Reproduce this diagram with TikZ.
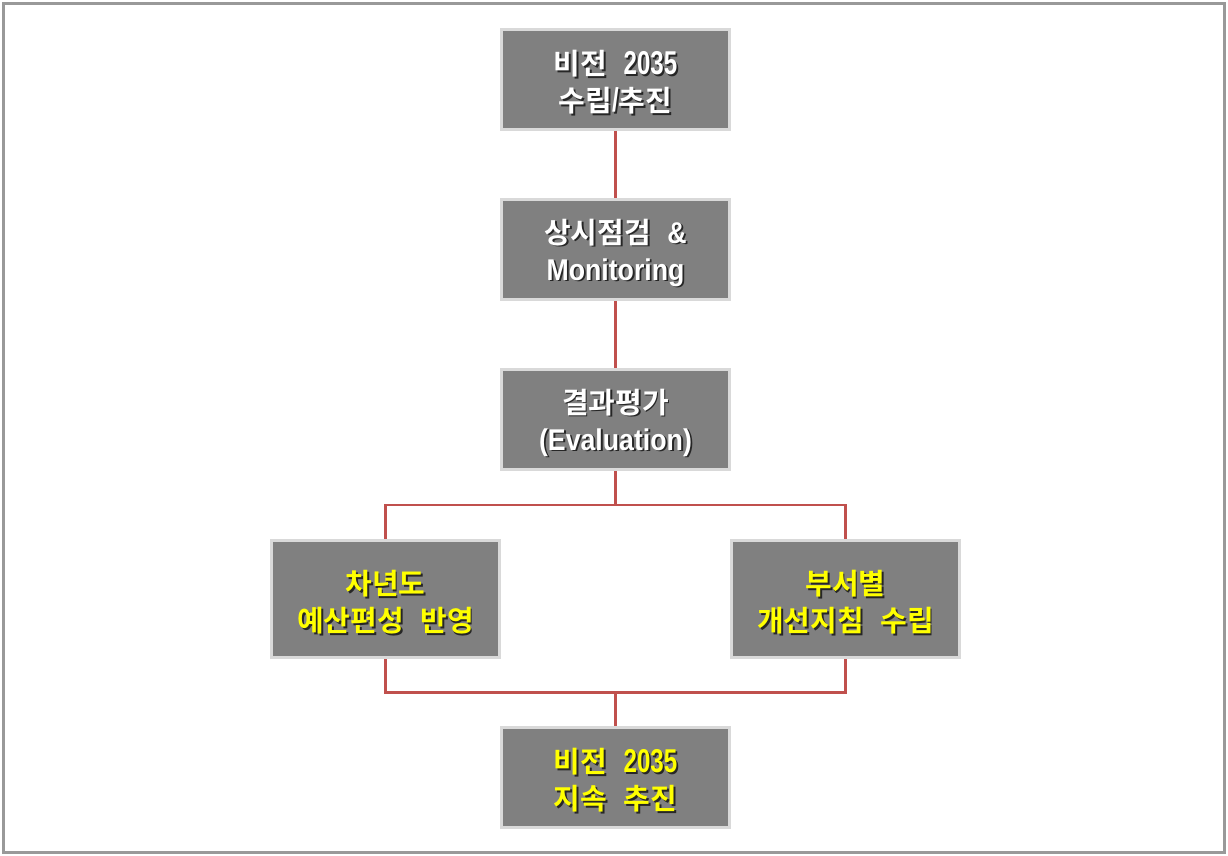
\documentclass[tikz,border=0pt]{standalone}
\usepackage{fontspec}
\newfontfamily\krfont{Noto Sans CJK KR}[BoldFont=* Bold,WordSpace=2.5]
\newfontfamily\latfont{Liberation Sans Bold}[FakeStretch=0.89]
\newfontfamily\digfont{Liberation Sans Bold}[FakeStretch=0.73]
\usetikzlibrary{positioning,calc}

\definecolor{boxgray}{RGB}{128,128,128}
\definecolor{rimgray}{RGB}{217,217,217}
\definecolor{linkred}{RGB}{192,80,77}
\definecolor{framegray}{RGB}{153,153,153}
\definecolor{hiyellow}{RGB}{255,255,0}

% text with a dark drop shadow, set a little low in the box
\newcommand\shd[1]{\raisebox{-4pt}[\height][\depth]{\makebox[0pt][l]{\raisebox{-1.8pt}{\hspace{1.8pt}\textcolor{black!85}{#1}}}#1}}
\newcommand\lat[1]{{\latfont\fontsize{30pt}{37pt}\selectfont #1}}
\newcommand\dig[1]{{\digfont\fontsize{33pt}{37pt}\selectfont #1}}

\begin{document}
\begin{tikzpicture}[
  font=\krfont\bfseries\fontsize{29pt}{37pt}\selectfont,
  box/.style={draw=rimgray,line width=3pt,fill=boxgray,text=white,
              minimum width=228pt,minimum height=100pt,align=center},
  tallbox/.style={box,minimum height=117pt},
  hot/.style={text=hiyellow},
  link/.style={draw=linkred,line width=2.4pt},
]
  \node[box] (b1) {\shd{비전 \dig{2035}}\\\shd{수립\dig{/}추진}};
  \node[box, below=67pt of b1] (b2) {\shd{상시점검 \lat{\&}}\\\shd{\lat{Monitoring}}};
  \node[box, below=67pt of b2] (b3) {\shd{결과평가}\\\shd{\lat{(Evaluation)}}};
  \node[tallbox, hot, below=68pt of b3, xshift=-230pt] (b4) {\shd{차년도}\\\shd{예산편성 반영}};
  \node[tallbox, hot, below=68pt of b3, xshift=230pt] (b5) {\shd{부서별}\\\shd{개선지침 수립}};
  \node[box, hot, below=67pt of $(b4.south)!0.5!(b5.south)$] (b6) {\shd{비전 \dig{2035}}\\\shd{지속 추진}};

  \coordinate (split) at ($(b3.south)!0.5!(b3.south |- b4.north)$);
  \coordinate (merge) at ($(b6.north)!0.5!(b6.north |- b4.south)$);

  \draw[link] (b1) -- (b2);
  \draw[link] (b2) -- (b3);
  \draw[link] (b3) -- (split) -| (b4);
  \draw[link] (split) -| (b5);
  \draw[link] (b4) |- (merge) -- (b6);
  \draw[link] (b5) |- (merge);

  % outer frame
  \path ($(b1.center)+(-615.5pt,79.5pt)$) coordinate (tl)
        ($(b1.center)+(612.5pt,-776.5pt)$) coordinate (br);
  \useasboundingbox (tl) rectangle (br);
  \draw[framegray,line width=3pt] ($(tl)+(3.5pt,-3.5pt)$) rectangle ($(br)+(-3.5pt,3.5pt)$);
\end{tikzpicture}
\end{document}
